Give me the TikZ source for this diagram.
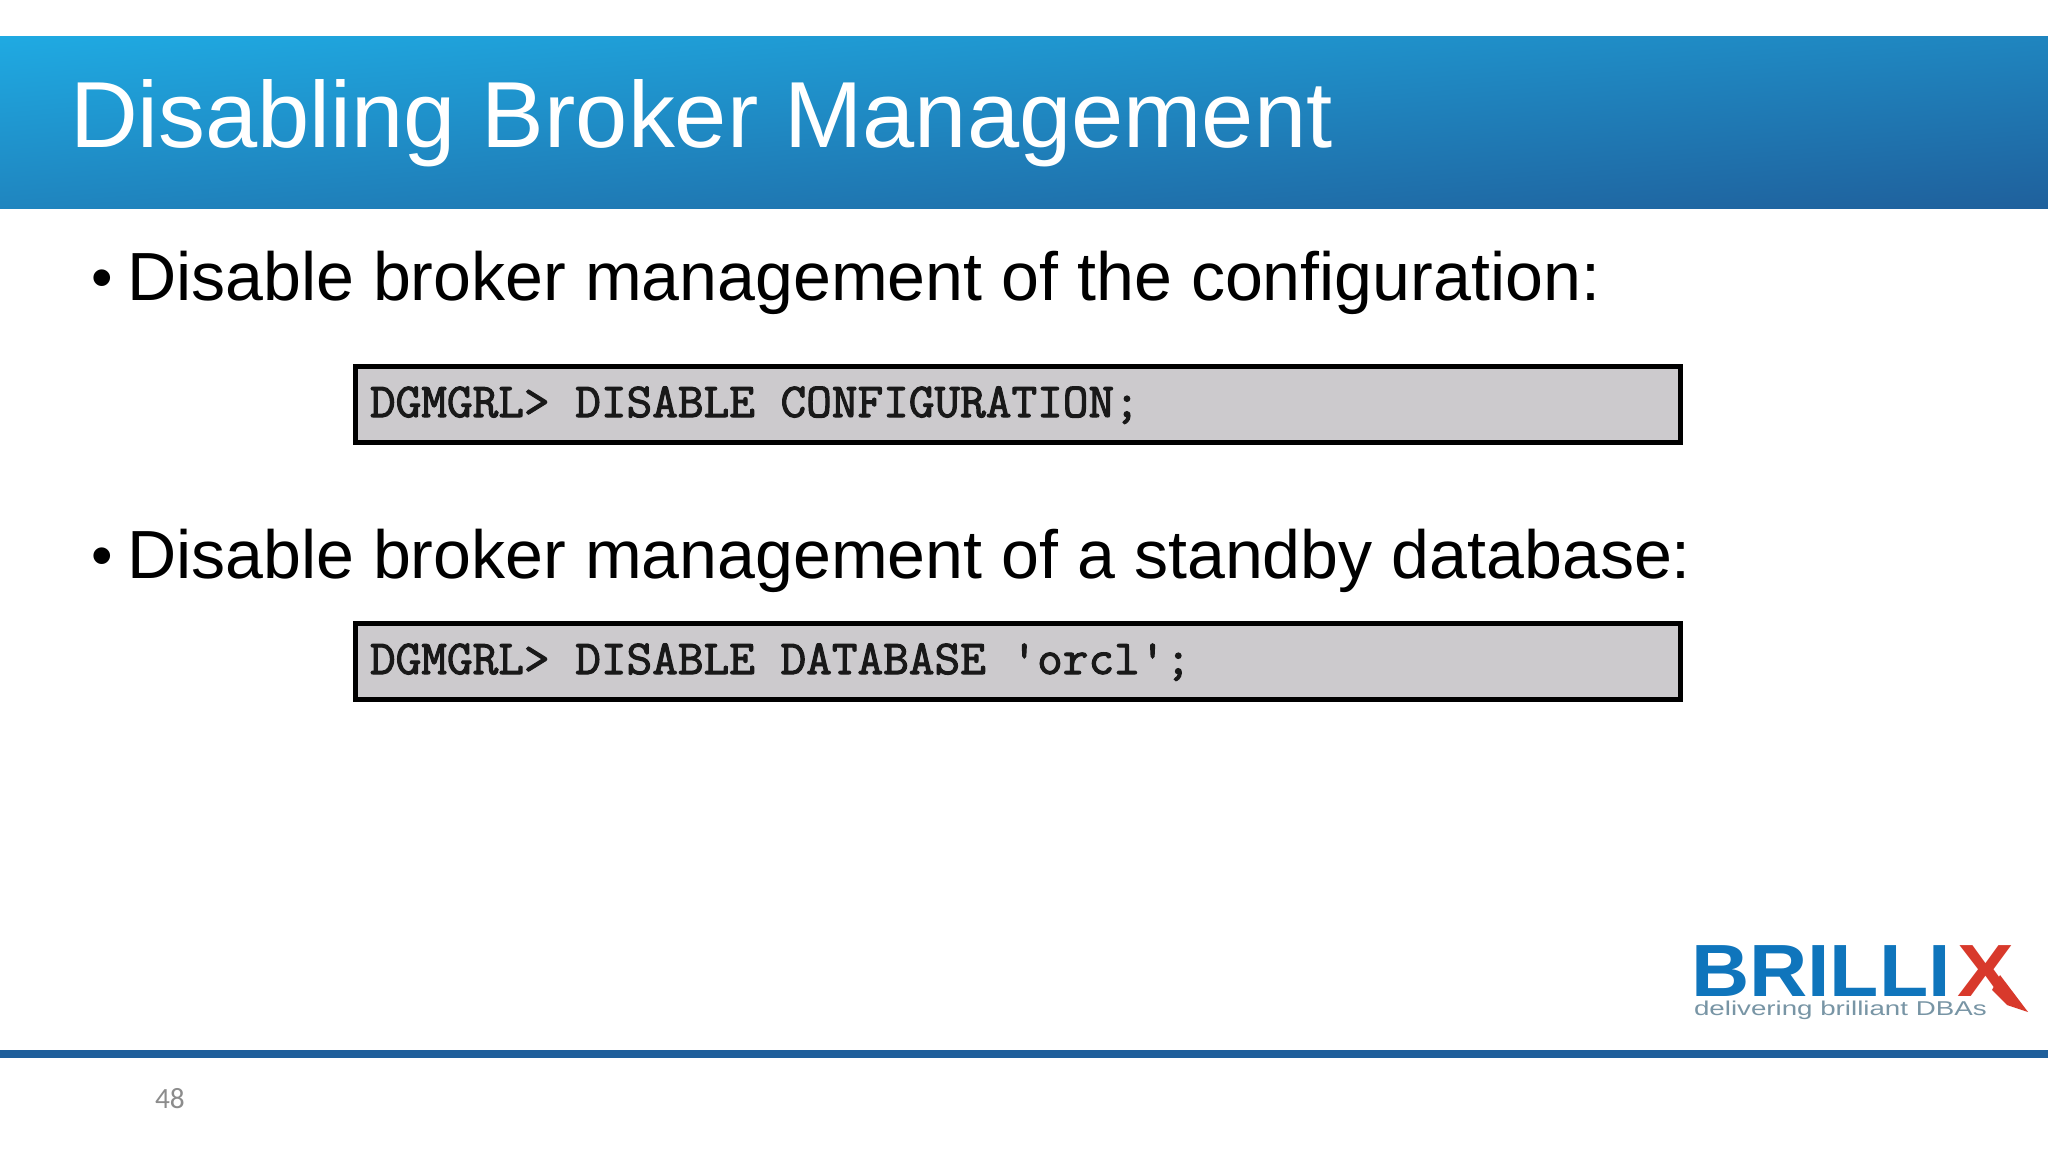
\documentclass[tikz,border=0pt]{standalone}
\usepackage{fontspec}
\setmainfont{Liberation Sans}
\newfontfamily\pagefont{Carlito}
\newfontfamily\codefont[FakeBold=2.2]{Latin Modern Mono}
\definecolor{bannerA}{HTML}{1FAEE6}
\definecolor{bannerB}{HTML}{1F5C98}
\definecolor{codebg}{HTML}{CCCACD}
\definecolor{rulecol}{HTML}{1F5F9B}
\definecolor{logoblue}{HTML}{0F75BC}
\definecolor{logored}{HTML}{D8392B}
\definecolor{taggray}{HTML}{7895A5}
\tikzset{
  x=0.75pt,y=-0.75pt,
  txt/.style={inner sep=0pt,outer sep=0pt,anchor=base west},
  bullettext/.style={txt,font=\fontsize{51.1}{51}\selectfont,text=black},
  bulletdot/.style={txt,font=\fontsize{46}{46}\selectfont,text=black},
  codebox/.style={draw=black,line width=3.75pt,fill=codebg,minimum width=994pt,minimum height=57pt,inner sep=0pt,anchor=north west},
  codetext/.style={txt,xscale=1.021,font=\fontsize{36.6}{36}\selectfont\codefont,text=black!90},
}
\begin{document}
\begin{tikzpicture}
\useasboundingbox (0,0) rectangle (2048,1152);
\fill[white] (0,0) rectangle (2048,1152);
\begin{scope}
\clip (0,37) rectangle (2048,208);
\begin{scope}[transform canvas={cm={1,0.0835,0,1,(0,0)}}]
\shade[top color=bannerA,bottom color=bannerB] (-40,17) rectangle (2090,399);
\end{scope}
\end{scope}
\node[txt,font=\fontsize{70.4}{70}\selectfont,text=white] (title) at (70,148) {Disabling Broker Management};
\node[bulletdot] (b1) at (91,298) {•};
\node[bullettext] (t1) at (127,300.5) {Disable broker management of the configuration:};
\node[codebox] (c1) at (352.7,363.6) {};
\node[codetext] (ct1) at (370,417) {DGMGRL> DISABLE CONFIGURATION;};
\node[bulletdot] (b2) at (91,576) {•};
\node[bullettext] (t2) at (127,578.5) {Disable broker management of a standby database:};
\node[codebox] (c2) at (352.7,620.6) {};
\node[codetext] (ct2) at (370,674) {DGMGRL> DISABLE DATABASE 'orcl';};
\node[txt,font=\fontsize{55.5}{55}\selectfont\bfseries,text=logoblue,xscale=1.09] (lg) at (1691,996) {BRILLI};
\node[txt,font=\fontsize{55.5}{55}\selectfont\bfseries,text=logored,xscale=1.15] (lx) at (1957,996) {X};
\fill[logored] (2000,975) -- (2028,1012) -- (2007,1005) -- (1992,990) -- cycle;
\node[txt,font=\fontsize{15}{15}\selectfont,text=taggray,xscale=1.386] (tag) at (1694,1015) {delivering brilliant DBAs};
\fill[rulecol] (0,1050) rectangle (2048,1058);
\node[txt,font=\fontsize{22}{22}\selectfont\pagefont,text=black!45] (pg) at (155,1108) {48};
\end{tikzpicture}
\end{document}
